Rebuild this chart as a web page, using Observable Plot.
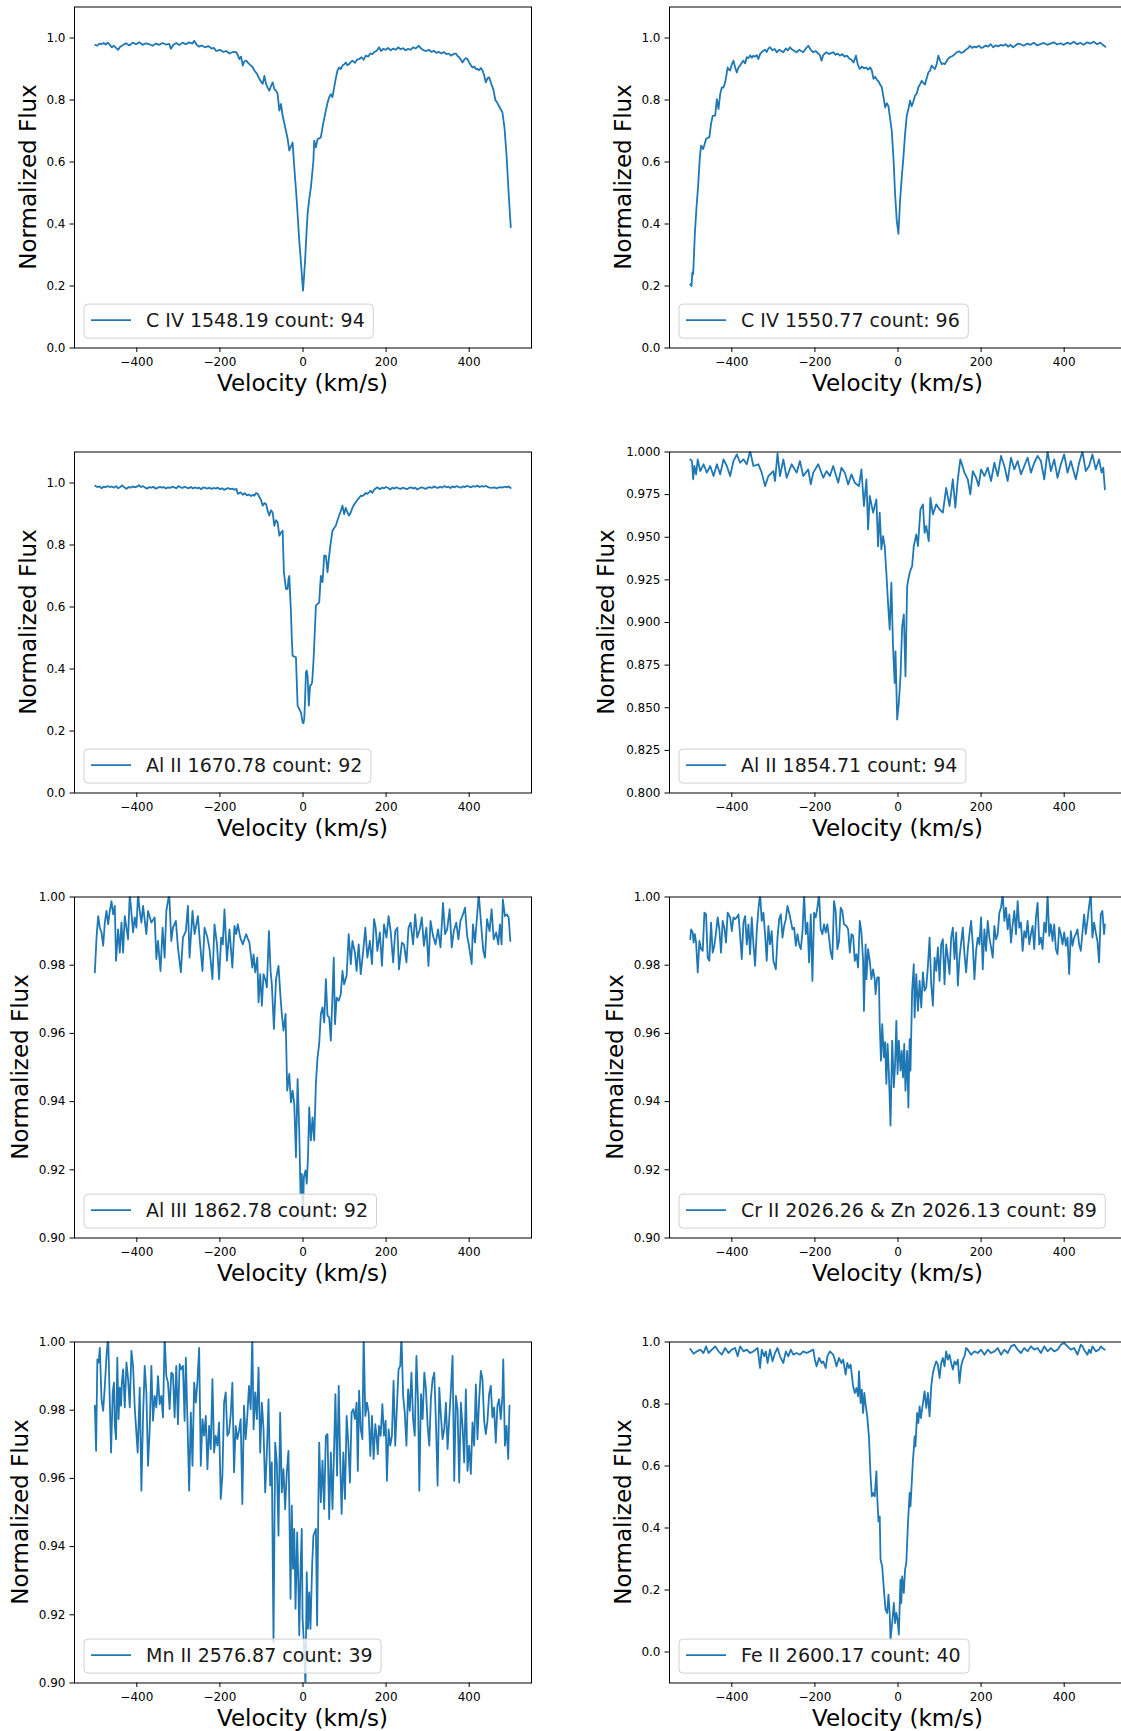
<!DOCTYPE html>
<html>
<head>
<meta charset="utf-8">
<script src="https://cdn.jsdelivr.net/npm/d3@7"></script>
<script src="https://cdn.jsdelivr.net/npm/@observablehq/plot@0.6"></script>
<style>
html,body{margin:0;padding:0;background:#fff;overflow:hidden;}
#fig{position:relative;width:1121px;height:1731px;overflow:hidden;background:#fff;font-family:"DejaVu Sans",sans-serif;}
#fig svg{position:absolute;}
</style>
</head>
<body>
<div id="fig"></div>
<script>
// ---------- data: [velocity km/s, normalized flux] ----------
const civ1548 = [[-500,0.978],[-495,0.975],[-490,0.982],[-485,0.980],[-480,0.984],[-475,0.979],[-470,0.985],[-465,0.978],[-460,0.970],[-455,0.975],[-450,0.968],[-445,0.962],[-440,0.972],[-432,0.978],[-426,0.983],[-418,0.976],[-410,0.985],[-402,0.980],[-394,0.986],[-386,0.978],[-378,0.983],[-370,0.980],[-362,0.975],[-354,0.982],[-346,0.978],[-338,0.984],[-330,0.979],[-322,0.981],[-318,0.965],[-312,0.978],[-305,0.984],[-298,0.977],[-290,0.985],[-282,0.980],[-274,0.986],[-266,0.982],[-262,0.991],[-256,0.978],[-250,0.972],[-244,0.976],[-236,0.970],[-228,0.974],[-220,0.966],[-214,0.968],[-209,0.958],[-200,0.962],[-192,0.955],[-185,0.958],[-177,0.950],[-169,0.955],[-161,0.954],[-157,0.945],[-153,0.932],[-149,0.940],[-145,0.911],[-141,0.925],[-137,0.927],[-131,0.918],[-125,0.911],[-121,0.905],[-117,0.895],[-111,0.885],[-105,0.868],[-101,0.860],[-97,0.852],[-93,0.878],[-89,0.852],[-85,0.840],[-81,0.830],[-77,0.845],[-73,0.857],[-69,0.835],[-65,0.830],[-61,0.819],[-57,0.766],[-53,0.787],[-49,0.749],[-45,0.725],[-41,0.700],[-37,0.675],[-33,0.637],[-29,0.650],[-25,0.663],[-21,0.583],[-18,0.530],[-15,0.475],[-12,0.410],[-9,0.346],[-6,0.295],[-4,0.260],[-2,0.220],[0,0.185],[2,0.220],[5,0.282],[8,0.360],[11,0.432],[15,0.480],[19,0.518],[22,0.560],[25,0.604],[27,0.669],[31,0.647],[35,0.674],[39,0.676],[43,0.680],[47,0.712],[51,0.740],[55,0.766],[59,0.790],[63,0.809],[67,0.819],[71,0.809],[75,0.841],[79,0.870],[83,0.895],[87,0.905],[91,0.900],[95,0.911],[99,0.915],[103,0.921],[107,0.912],[111,0.916],[115,0.922],[119,0.927],[125,0.920],[130,0.930],[135,0.932],[141,0.938],[146,0.930],[151,0.943],[157,0.940],[162,0.950],[167,0.948],[172,0.955],[178,0.960],[183,0.970],[188,0.958],[193,0.965],[199,0.962],[205,0.968],[211,0.960],[217,0.966],[223,0.962],[229,0.970],[235,0.964],[241,0.967],[247,0.960],[253,0.965],[259,0.962],[265,0.970],[271,0.966],[279,0.975],[285,0.965],[291,0.960],[297,0.958],[303,0.962],[309,0.955],[315,0.959],[321,0.952],[327,0.955],[333,0.950],[339,0.955],[345,0.948],[351,0.950],[356,0.943],[362,0.948],[368,0.950],[372,0.942],[376,0.938],[380,0.930],[384,0.921],[388,0.930],[392,0.935],[396,0.932],[400,0.921],[404,0.912],[408,0.905],[412,0.908],[416,0.900],[420,0.900],[424,0.896],[428,0.903],[432,0.895],[436,0.880],[440,0.857],[444,0.870],[448,0.873],[453,0.853],[458,0.835],[463,0.800],[468,0.790],[472,0.780],[476,0.770],[480,0.760],[485,0.710],[490,0.620],[495,0.500],[500,0.390]];

const civ1550 = [[-500,0.206],[-497,0.200],[-495,0.244],[-493,0.238],[-489,0.368],[-485,0.454],[-481,0.524],[-477,0.615],[-474,0.653],[-469,0.642],[-465,0.660],[-462,0.674],[-458,0.678],[-454,0.680],[-450,0.723],[-446,0.749],[-440,0.750],[-436,0.803],[-432,0.771],[-428,0.819],[-424,0.841],[-420,0.840],[-416,0.857],[-413,0.880],[-410,0.905],[-407,0.898],[-404,0.895],[-400,0.915],[-396,0.927],[-392,0.905],[-388,0.889],[-384,0.905],[-380,0.911],[-376,0.920],[-372,0.927],[-368,0.918],[-364,0.938],[-360,0.935],[-356,0.944],[-352,0.936],[-348,0.943],[-344,0.940],[-340,0.945],[-336,0.932],[-332,0.948],[-328,0.955],[-324,0.959],[-320,0.962],[-316,0.955],[-312,0.966],[-308,0.970],[-302,0.960],[-297,0.965],[-292,0.954],[-286,0.962],[-281,0.958],[-276,0.954],[-270,0.966],[-265,0.960],[-260,0.970],[-254,0.962],[-249,0.958],[-244,0.954],[-238,0.962],[-233,0.958],[-228,0.954],[-222,0.966],[-216,0.975],[-210,0.962],[-204,0.954],[-198,0.958],[-192,0.950],[-188,0.945],[-184,0.927],[-180,0.945],[-176,0.950],[-172,0.954],[-166,0.948],[-160,0.952],[-156,0.954],[-150,0.946],[-145,0.950],[-140,0.943],[-134,0.948],[-129,0.940],[-123,0.943],[-118,0.935],[-112,0.930],[-107,0.921],[-101,0.943],[-97,0.915],[-92,0.900],[-87,0.908],[-82,0.902],[-77,0.905],[-72,0.898],[-67,0.905],[-63,0.895],[-59,0.868],[-55,0.875],[-51,0.866],[-47,0.860],[-43,0.850],[-39,0.841],[-35,0.810],[-31,0.776],[-27,0.790],[-23,0.780],[-19,0.740],[-15,0.700],[-11,0.615],[-7,0.497],[-3,0.411],[1,0.368],[5,0.475],[9,0.550],[13,0.615],[17,0.690],[21,0.749],[25,0.770],[29,0.798],[33,0.780],[37,0.795],[41,0.814],[45,0.820],[49,0.841],[53,0.850],[57,0.862],[61,0.855],[65,0.850],[69,0.870],[73,0.889],[77,0.895],[81,0.911],[85,0.905],[89,0.900],[93,0.915],[97,0.943],[101,0.928],[105,0.916],[109,0.918],[113,0.916],[119,0.930],[125,0.938],[131,0.942],[137,0.948],[141,0.954],[147,0.957],[152,0.952],[157,0.954],[163,0.962],[168,0.966],[173,0.975],[178,0.968],[184,0.972],[189,0.970],[195,0.975],[200,0.968],[205,0.970],[211,0.976],[217,0.972],[223,0.980],[229,0.970],[235,0.976],[241,0.973],[247,0.978],[253,0.975],[259,0.980],[265,0.972],[271,0.978],[277,0.970],[283,0.976],[289,0.982],[295,0.980],[303,0.975],[311,0.982],[319,0.978],[327,0.985],[335,0.976],[343,0.980],[351,0.984],[359,0.978],[367,0.982],[375,0.986],[383,0.979],[391,0.983],[399,0.978],[407,0.985],[415,0.981],[423,0.988],[431,0.980],[439,0.984],[447,0.978],[455,0.986],[463,0.982],[471,0.988],[479,0.980],[487,0.985],[493,0.978],[499,0.972]];

const alii1670 = [[-500,0.991],[-495,0.987],[-490,0.989],[-485,0.983],[-480,0.988],[-475,0.986],[-470,0.990],[-465,0.987],[-460,0.989],[-455,0.985],[-450,0.990],[-445,0.983],[-440,0.987],[-435,0.992],[-430,0.986],[-425,0.981],[-420,0.987],[-415,0.985],[-410,0.989],[-405,0.986],[-400,0.988],[-395,0.993],[-390,0.987],[-385,0.990],[-380,0.985],[-375,0.982],[-370,0.987],[-365,0.985],[-360,0.988],[-355,0.982],[-350,0.984],[-345,0.988],[-340,0.985],[-335,0.987],[-330,0.982],[-325,0.986],[-320,0.984],[-315,0.988],[-310,0.986],[-305,0.983],[-300,0.990],[-295,0.986],[-290,0.984],[-285,0.988],[-280,0.985],[-275,0.983],[-270,0.987],[-265,0.982],[-260,0.986],[-255,0.983],[-250,0.985],[-245,0.980],[-240,0.986],[-235,0.984],[-230,0.982],[-225,0.985],[-220,0.981],[-215,0.984],[-210,0.982],[-205,0.985],[-200,0.980],[-195,0.983],[-190,0.978],[-185,0.981],[-180,0.984],[-175,0.980],[-170,0.982],[-165,0.978],[-160,0.981],[-157,0.965],[-150,0.970],[-145,0.962],[-140,0.967],[-135,0.960],[-130,0.963],[-125,0.958],[-120,0.962],[-117,0.959],[-113,0.968],[-109,0.965],[-105,0.955],[-101,0.945],[-97,0.927],[-93,0.935],[-89,0.932],[-85,0.910],[-81,0.895],[-77,0.912],[-73,0.905],[-69,0.862],[-65,0.880],[-61,0.873],[-57,0.830],[-53,0.840],[-49,0.846],[-46,0.712],[-43,0.680],[-41,0.658],[-39,0.660],[-37,0.658],[-35,0.690],[-33,0.700],[-31,0.640],[-29,0.583],[-27,0.500],[-25,0.443],[-21,0.440],[-17,0.438],[-15,0.360],[-13,0.282],[-9,0.271],[-5,0.260],[-3,0.245],[-1,0.228],[1,0.225],[3,0.239],[5,0.300],[7,0.389],[9,0.395],[11,0.378],[14,0.282],[17,0.346],[20,0.350],[22,0.357],[25,0.420],[27,0.475],[29,0.540],[31,0.604],[35,0.610],[39,0.615],[41,0.660],[43,0.700],[45,0.690],[47,0.680],[49,0.720],[51,0.766],[55,0.766],[59,0.712],[61,0.740],[63,0.766],[67,0.810],[71,0.846],[75,0.855],[79,0.862],[83,0.880],[87,0.895],[91,0.910],[95,0.927],[99,0.900],[103,0.920],[107,0.905],[111,0.895],[115,0.905],[119,0.920],[123,0.930],[127,0.938],[131,0.945],[135,0.952],[139,0.959],[143,0.958],[147,0.962],[151,0.968],[155,0.965],[159,0.970],[163,0.975],[167,0.968],[171,0.978],[175,0.982],[179,0.986],[185,0.980],[190,0.985],[195,0.983],[200,0.987],[205,0.984],[210,0.979],[215,0.985],[220,0.982],[225,0.986],[230,0.983],[235,0.981],[240,0.985],[245,0.983],[250,0.980],[255,0.984],[260,0.986],[265,0.982],[270,0.985],[275,0.979],[280,0.983],[285,0.986],[290,0.984],[295,0.981],[300,0.985],[305,0.987],[310,0.984],[315,0.989],[320,0.986],[325,0.984],[330,0.988],[335,0.985],[340,0.990],[345,0.986],[350,0.988],[355,0.984],[360,0.989],[365,0.986],[370,0.990],[375,0.987],[380,0.985],[385,0.989],[390,0.987],[395,0.991],[400,0.988],[405,0.986],[410,0.990],[415,0.988],[420,0.992],[425,0.987],[430,0.990],[435,0.988],[440,0.991],[445,0.987],[450,0.985],[455,0.984],[460,0.986],[465,0.983],[470,0.985],[475,0.987],[480,0.985],[485,0.988],[490,0.986],[495,0.989],[500,0.984]];

const alii1854 = [[-500,0.9957],[-496,0.9947],[-493,0.9840],[-490,0.9918],[-486,0.9869],[-482,0.9957],[-476,0.9888],[-468,0.9928],[-460,0.9879],[-452,0.9918],[-444,0.9859],[-436,0.9928],[-428,0.9869],[-420,0.9957],[-412,0.9918],[-404,0.9859],[-396,0.9947],[-388,0.9986],[-380,0.9937],[-372,0.9957],[-364,0.9928],[-356,1.0005],[-348,0.9918],[-336,0.9928],[-328,0.9879],[-320,0.9800],[-312,0.9859],[-300,0.9888],[-296,0.9830],[-290,0.9992],[-284,0.9859],[-276,0.9957],[-268,0.9849],[-256,0.9928],[-244,0.9879],[-236,0.9947],[-228,0.9859],[-216,0.9898],[-210,0.9810],[-204,0.9879],[-192,0.9928],[-180,0.9849],[-172,0.9888],[-164,0.9859],[-156,0.9918],[-144,0.9820],[-136,0.9908],[-128,0.9879],[-120,0.9810],[-112,0.9869],[-104,0.9820],[-94,0.9800],[-88,0.9898],[-82,0.9683],[-76,0.9840],[-72,0.9546],[-68,0.9742],[-60,0.9644],[-52,0.9722],[-48,0.9448],[-44,0.9644],[-40,0.9429],[-36,0.9507],[-32,0.9448],[-28,0.9292],[-24,0.9115],[-20,0.8959],[-16,0.9233],[-12,0.8861],[-8,0.8646],[-6,0.8831],[-2,0.8431],[2,0.8528],[6,0.8685],[10,0.8978],[14,0.9047],[18,0.8685],[22,0.9213],[28,0.9292],[34,0.9331],[38,0.9448],[44,0.9517],[48,0.9448],[54,0.9663],[60,0.9693],[64,0.9526],[68,0.9566],[74,0.9477],[78,0.9732],[84,0.9634],[92,0.9693],[100,0.9663],[108,0.9644],[116,0.9790],[124,0.9683],[132,0.9840],[138,0.9673],[144,0.9840],[150,0.9957],[160,0.9879],[168,0.9840],[174,0.9751],[180,0.9888],[188,0.9849],[194,0.9800],[200,0.9898],[208,0.9859],[216,0.9908],[224,0.9830],[232,0.9937],[240,0.9859],[248,0.9977],[256,0.9918],[264,0.9830],[272,0.9967],[280,0.9898],[288,0.9947],[296,0.9869],[304,0.9918],[312,0.9967],[320,0.9879],[328,0.9937],[336,0.9977],[344,0.9947],[352,0.9840],[360,1.0005],[368,0.9888],[376,0.9957],[384,0.9849],[392,0.9928],[400,0.9986],[408,0.9879],[416,0.9947],[428,0.9840],[436,0.9937],[444,1.0003],[452,0.9888],[460,0.9918],[468,0.9986],[476,0.9898],[484,0.9957],[490,0.9879],[494,0.9908],[498,0.9781]];

const aliii1862 = [[-501,0.9779],[-497,0.9881],[-493,0.9944],[-489,0.9910],[-485,0.9896],[-481,0.9857],[-477,0.9925],[-473,0.9959],[-469,0.9920],[-465,0.9959],[-461,0.9988],[-457,0.9949],[-453,0.9974],[-450,0.9813],[-445,0.9905],[-441,0.9837],[-437,0.9925],[-433,0.9837],[-429,0.9944],[-421,0.9876],[-417,1.0010],[-413,0.9954],[-409,0.9896],[-405,0.9940],[-401,0.9910],[-397,1.0010],[-393,0.9959],[-389,0.9925],[-385,0.9974],[-377,0.9891],[-373,0.9959],[-365,0.9925],[-357,0.9940],[-353,0.9818],[-349,0.9871],[-343,0.9783],[-338,0.9910],[-333,0.9822],[-329,0.9959],[-322,1.0010],[-317,0.9871],[-313,0.9910],[-306,0.9930],[-301,0.9852],[-294,0.9779],[-289,0.9881],[-282,0.9900],[-277,0.9974],[-273,0.9822],[-266,0.9959],[-261,0.9891],[-253,0.9944],[-249,0.9881],[-242,0.9783],[-237,0.9910],[-230,0.9881],[-225,0.9847],[-218,0.9759],[-213,0.9920],[-207,0.9861],[-202,0.9759],[-197,0.9881],[-193,0.9861],[-189,0.9964],[-183,0.9813],[-177,0.9905],[-170,0.9793],[-165,0.9915],[-161,0.9891],[-157,0.9920],[-151,0.9881],[-145,0.9861],[-137,0.9891],[-129,0.9866],[-122,0.9793],[-119,0.9832],[-115,0.9779],[-110,0.9822],[-107,0.9691],[-103,0.9774],[-99,0.9681],[-95,0.9774],[-90,0.9754],[-87,0.9735],[-82,0.9900],[-78,0.9783],[-75,0.9744],[-70,0.9613],[-65,0.9759],[-59,0.9798],[-54,0.9705],[-51,0.9657],[-47,0.9608],[-42,0.9657],[-38,0.9432],[-33,0.9481],[-29,0.9398],[-25,0.9432],[-21,0.9393],[-17,0.9237],[-13,0.9466],[-9,0.9315],[-6,0.9130],[-3,0.9188],[0,0.9052],[2,0.9179],[6,0.9198],[9,0.9159],[12,0.9237],[15,0.9383],[19,0.9286],[23,0.9354],[27,0.9286],[31,0.9452],[35,0.9530],[39,0.9569],[43,0.9657],[47,0.9676],[51,0.9632],[55,0.9759],[59,0.9652],[63,0.9647],[67,0.9579],[71,0.9715],[74,0.9822],[77,0.9627],[81,0.9705],[86,0.9696],[91,0.9715],[95,0.9783],[99,0.9744],[105,0.9769],[110,0.9891],[115,0.9803],[119,0.9871],[125,0.9837],[129,0.9783],[134,0.9861],[139,0.9774],[145,0.9842],[150,0.9910],[155,0.9822],[161,0.9871],[166,0.9803],[171,0.9935],[175,0.9910],[179,0.9842],[185,0.9896],[190,0.9798],[195,0.9920],[201,0.9881],[206,0.9944],[211,0.9900],[217,0.9808],[222,0.9900],[227,0.9910],[231,0.9788],[238,0.9866],[243,0.9861],[249,0.9808],[254,0.9910],[259,0.9925],[265,0.9861],[270,0.9949],[275,0.9881],[281,0.9905],[286,0.9940],[291,0.9857],[297,0.9910],[302,0.9798],[307,0.9930],[313,0.9886],[319,0.9861],[325,0.9905],[331,0.9852],[337,0.9983],[342,0.9891],[347,0.9905],[353,0.9964],[358,0.9852],[363,0.9900],[369,0.9925],[374,0.9876],[379,0.9930],[385,0.9949],[390,0.9969],[395,0.9886],[399,0.9861],[406,0.9803],[409,0.9920],[414,0.9866],[419,0.9944],[423,1.0010],[430,0.9900],[434,0.9842],[438,0.9822],[443,0.9935],[449,0.9900],[454,0.9964],[459,0.9876],[465,0.9896],[470,0.9861],[474,0.9920],[478,0.9861],[481,0.9993],[486,0.9944],[491,0.9949],[495,0.9940],[499,0.9871]];

const crii2026 = [[-500,0.9876],[-498,0.9905],[-494,0.9896],[-492,0.9866],[-489,0.9891],[-486,0.9866],[-482,0.9779],[-478,0.9871],[-474,0.9847],[-470,0.9842],[-466,0.9954],[-462,0.9949],[-458,0.9822],[-454,0.9813],[-450,0.9925],[-446,0.9837],[-442,0.9857],[-438,0.9896],[-434,0.9940],[-430,0.9905],[-426,0.9837],[-422,0.9930],[-418,0.9910],[-414,0.9866],[-410,0.9954],[-404,0.9940],[-400,0.9900],[-396,0.9940],[-392,0.9935],[-388,0.9940],[-384,0.9949],[-380,0.9886],[-376,0.9818],[-372,0.9925],[-368,0.9944],[-364,0.9861],[-360,0.9920],[-356,0.9832],[-352,0.9940],[-348,0.9861],[-344,0.9798],[-340,0.9900],[-336,0.9964],[-332,1.0010],[-328,0.9930],[-324,0.9954],[-320,0.9891],[-316,0.9813],[-312,0.9915],[-308,0.9861],[-304,0.9900],[-300,0.9813],[-294,0.9788],[-290,0.9881],[-286,0.9935],[-282,0.9949],[-278,0.9881],[-274,0.9915],[-270,0.9935],[-266,0.9974],[-262,0.9954],[-258,0.9930],[-254,0.9905],[-250,0.9910],[-246,0.9857],[-242,0.9891],[-238,0.9861],[-234,0.9847],[-230,0.9896],[-226,1.0010],[-222,0.9891],[-218,0.9925],[-214,0.9808],[-210,0.9949],[-206,0.9754],[-202,0.9954],[-198,0.9940],[-194,0.9969],[-190,1.0010],[-186,0.9905],[-182,0.9891],[-178,0.9920],[-174,0.9896],[-170,0.9920],[-166,0.9881],[-162,0.9837],[-158,0.9818],[-154,0.9988],[-150,0.9959],[-146,0.9847],[-142,0.9871],[-138,0.9969],[-134,0.9959],[-130,0.9920],[-124,0.9915],[-120,0.9905],[-116,0.9837],[-112,0.9891],[-108,0.9886],[-104,0.9813],[-100,0.9832],[-96,0.9793],[-92,0.9930],[-88,0.9896],[-84,0.9813],[-82,0.9666],[-78,0.9861],[-76,0.9759],[-72,0.9847],[-68,0.9813],[-64,0.9759],[-60,0.9788],[-56,0.9759],[-54,0.9715],[-50,0.9764],[-46,0.9764],[-44,0.9627],[-41,0.9520],[-38,0.9627],[-34,0.9530],[-31,0.9574],[-28,0.9452],[-25,0.9569],[-22,0.9486],[-18,0.9330],[-14,0.9579],[-10,0.9442],[-7,0.9510],[-4,0.9637],[-1,0.9481],[2,0.9579],[6,0.9491],[9,0.9549],[12,0.9471],[15,0.9569],[18,0.9432],[22,0.9549],[25,0.9383],[28,0.9583],[30,0.9491],[34,0.9725],[38,0.9803],[40,0.9647],[44,0.9774],[48,0.9666],[52,0.9754],[56,0.9676],[60,0.9779],[64,0.9725],[68,0.9735],[72,0.9798],[76,0.9881],[80,0.9744],[84,0.9681],[88,0.9822],[92,0.9783],[96,0.9852],[100,0.9754],[104,0.9861],[108,0.9876],[112,0.9744],[116,0.9861],[120,0.9822],[124,0.9774],[128,0.9881],[132,0.9910],[136,0.9818],[140,0.9896],[144,0.9740],[148,0.9822],[152,0.9866],[156,0.9910],[160,0.9832],[164,0.9779],[168,0.9847],[172,0.9891],[176,0.9930],[180,0.9861],[184,0.9759],[188,0.9842],[192,0.9881],[196,0.9861],[200,0.9940],[204,0.9788],[208,0.9905],[212,0.9842],[216,0.9930],[220,0.9881],[224,0.9852],[228,0.9822],[232,0.9915],[236,0.9876],[240,0.9891],[244,0.9954],[248,0.9969],[252,1.0010],[256,0.9930],[260,0.9969],[264,0.9905],[268,0.9949],[272,0.9866],[276,0.9920],[280,0.9959],[284,0.9891],[288,0.9988],[292,0.9910],[296,0.9925],[300,0.9842],[304,0.9900],[308,0.9881],[312,0.9930],[316,0.9861],[320,0.9891],[324,0.9915],[328,0.9847],[332,0.9940],[336,0.9983],[340,0.9861],[344,0.9881],[348,0.9847],[352,0.9925],[356,0.9896],[360,1.0010],[364,0.9886],[368,0.9920],[372,0.9871],[376,0.9920],[380,0.9847],[384,0.9832],[388,0.9910],[392,0.9891],[396,0.9861],[400,0.9896],[404,0.9857],[408,0.9881],[412,0.9774],[416,0.9900],[420,0.9857],[424,0.9881],[428,0.9891],[432,0.9905],[436,0.9861],[440,0.9842],[444,0.9896],[448,0.9949],[452,0.9891],[456,0.9930],[460,0.9974],[464,1.0010],[468,0.9881],[472,0.9925],[476,0.9896],[480,0.9871],[484,0.9808],[488,0.9949],[492,0.9959],[496,0.9891],[498,0.9920]];

const mnii2576 = [[-501,0.9813],[-498,0.9681],[-495,0.9949],[-492,0.9940],[-489,0.9983],[-485,0.9832],[-481,0.9798],[-477,0.9871],[-473,0.9959],[-469,1.0020],[-466,0.9871],[-462,0.9676],[-458,0.9852],[-455,0.9881],[-453,0.9754],[-450,0.9715],[-447,0.9954],[-444,0.9774],[-441,0.9866],[-438,0.9813],[-436,0.9881],[-433,0.9920],[-429,0.9808],[-425,0.9940],[-421,0.9891],[-417,0.9808],[-413,0.9974],[-409,0.9930],[-405,0.9808],[-398,0.9676],[-393,0.9866],[-389,0.9564],[-385,0.9783],[-381,0.9930],[-377,0.9852],[-373,0.9637],[-369,0.9744],[-365,0.9930],[-361,0.9769],[-357,0.9842],[-353,0.9808],[-349,0.9900],[-345,0.9818],[-341,0.9842],[-337,0.9779],[-333,1.0020],[-329,0.9900],[-325,0.9881],[-321,0.9803],[-317,0.9910],[-313,0.9905],[-309,0.9779],[-305,0.9930],[-301,0.9759],[-297,0.9935],[-293,0.9920],[-289,0.9930],[-285,0.9769],[-282,0.9954],[-278,0.9764],[-274,0.9564],[-270,0.9793],[-266,0.9637],[-262,0.9881],[-258,0.9822],[-254,0.9886],[-250,0.9983],[-246,0.9637],[-242,0.9774],[-238,0.9725],[-234,0.9783],[-230,0.9627],[-226,0.9754],[-222,0.9686],[-218,0.9891],[-214,0.9676],[-210,0.9725],[-206,0.9696],[-202,0.9764],[-198,0.9540],[-194,0.9608],[-190,0.9822],[-186,0.9852],[-182,0.9725],[-178,0.9735],[-174,0.9788],[-170,0.9881],[-166,0.9618],[-162,0.9754],[-158,0.9715],[-154,0.9740],[-150,0.9774],[-146,0.9525],[-142,0.9813],[-138,0.9715],[-134,0.9783],[-130,0.9871],[-126,0.9803],[-122,1.0020],[-119,0.9744],[-115,0.9852],[-111,0.9774],[-107,0.9925],[-103,0.9676],[-99,0.9822],[-95,0.9744],[-91,0.9559],[-87,0.9676],[-83,0.9832],[-79,0.9579],[-75,0.9647],[-71,0.9120],[-67,0.9705],[-63,0.9647],[-59,0.9432],[-55,0.9793],[-51,0.9559],[-47,0.9627],[-43,0.9510],[-39,0.9618],[-35,0.9681],[-33,0.9530],[-30,0.9247],[-27,0.9520],[-24,0.9335],[-21,0.9452],[-18,0.9218],[-14,0.9442],[-11,0.9276],[-9,0.9140],[-6,0.9335],[-3,0.9452],[-1,0.9188],[2,0.9120],[6,0.8990],[9,0.9325],[12,0.9159],[15,0.9266],[18,0.9159],[22,0.9344],[25,0.9432],[28,0.9442],[31,0.9452],[34,0.9169],[37,0.9530],[39,0.9705],[43,0.9530],[47,0.9652],[51,0.9510],[55,0.9725],[59,0.9730],[63,0.9481],[67,0.9676],[71,0.9510],[75,0.9696],[78,0.9847],[82,0.9608],[86,0.9871],[90,0.9627],[93,0.9496],[97,0.9676],[101,0.9540],[105,0.9783],[109,0.9705],[113,0.9588],[117,0.9793],[121,0.9803],[125,0.9774],[129,0.9822],[132,0.9622],[135,0.9857],[139,0.9744],[143,0.9715],[146,1.0020],[150,0.9783],[154,0.9822],[158,0.9793],[162,0.9666],[166,0.9783],[170,0.9657],[174,0.9759],[177,0.9725],[180,0.9671],[183,0.9754],[187,0.9725],[191,0.9818],[195,0.9725],[199,0.9769],[202,0.9593],[206,0.9744],[210,0.9696],[214,0.9725],[218,0.9886],[222,0.9696],[226,0.9808],[230,0.9920],[234,0.9930],[237,1.0020],[241,0.9842],[245,0.9793],[249,0.9696],[253,0.9861],[257,0.9798],[261,0.9910],[265,0.9774],[269,0.9725],[273,0.9959],[277,0.9822],[280,0.9564],[284,0.9847],[288,0.9774],[292,0.9910],[296,0.9861],[300,0.9754],[304,0.9696],[308,0.9837],[312,0.9891],[316,0.9910],[320,0.9764],[324,0.9579],[328,0.9866],[332,0.9783],[336,0.9715],[340,0.9744],[344,0.9822],[348,0.9686],[352,0.9774],[356,0.9861],[360,0.9959],[364,0.9593],[368,0.9842],[372,0.9803],[376,0.9588],[380,0.9822],[384,0.9754],[388,0.9647],[392,0.9861],[396,0.9622],[400,0.9696],[404,0.9613],[408,0.9764],[412,0.9696],[416,0.9876],[420,0.9715],[424,0.9832],[428,0.9915],[432,0.9891],[436,0.9769],[440,0.9730],[444,0.9769],[448,0.9847],[452,0.9871],[456,0.9779],[460,0.9808],[464,0.9705],[468,0.9813],[472,0.9832],[476,0.9774],[480,0.9842],[482,0.9949],[486,0.9696],[490,0.9754],[494,0.9657],[497,0.9813]];

const feii2600 = [[-500,0.9774],[-496,0.9699],[-492,0.9624],[-484,0.9699],[-476,0.9753],[-468,0.9645],[-462,0.9860],[-456,0.9645],[-448,0.9753],[-440,0.9860],[-432,0.9699],[-424,0.9591],[-416,0.9806],[-408,0.9645],[-400,0.9753],[-392,0.9806],[-386,0.9538],[-380,0.9860],[-372,0.9699],[-364,0.9753],[-356,0.9645],[-348,0.9699],[-338,0.9806],[-332,0.9161],[-328,0.9753],[-322,0.9538],[-318,0.9699],[-314,0.9323],[-308,0.9753],[-302,0.9376],[-296,0.9645],[-290,0.9806],[-284,0.9538],[-276,0.9323],[-270,0.9699],[-264,0.9538],[-258,0.9753],[-252,0.9591],[-244,0.9645],[-236,0.9591],[-228,0.9699],[-220,0.9645],[-212,0.9699],[-204,0.9753],[-200,0.9430],[-196,0.9215],[-190,0.9484],[-184,0.9323],[-180,0.9376],[-174,0.9161],[-170,0.9538],[-164,0.9699],[-156,0.9591],[-152,0.9430],[-148,0.9215],[-142,0.9484],[-136,0.9323],[-132,0.9430],[-126,0.8946],[-122,0.9323],[-118,0.9161],[-114,0.9269],[-108,0.8570],[-104,0.8355],[-100,0.8516],[-96,0.8247],[-94,0.9054],[-90,0.8032],[-87,0.8462],[-84,0.7710],[-81,0.8355],[-78,0.7978],[-74,0.7602],[-70,0.6957],[-66,0.5667],[-63,0.5022],[-60,0.5129],[-56,0.5022],[-52,0.5828],[-50,0.5022],[-47,0.4215],[-44,0.4376],[-42,0.2978],[-38,0.2763],[-34,0.2011],[-30,0.1366],[-26,0.1258],[-23,0.1849],[-20,0.1258],[-18,0.0398],[-14,0.0935],[-10,0.1581],[-7,0.0935],[-4,0.1258],[-1,0.1043],[2,0.0559],[6,0.2333],[8,0.1581],[10,0.2441],[14,0.1903],[17,0.2656],[20,0.2871],[24,0.4161],[28,0.5129],[30,0.4699],[32,0.5183],[36,0.6204],[38,0.6527],[40,0.6957],[42,0.6634],[46,0.7710],[49,0.7387],[52,0.7925],[55,0.7548],[60,0.8032],[64,0.8409],[68,0.7871],[72,0.8355],[76,0.7602],[80,0.8570],[84,0.9000],[88,0.9215],[92,0.9376],[96,0.9269],[100,0.8839],[104,0.9323],[108,0.9484],[112,0.9215],[116,0.9699],[120,0.9430],[124,0.9591],[128,0.9323],[132,0.9108],[136,0.9376],[140,0.9269],[144,0.9430],[148,0.8677],[152,0.9215],[156,0.9430],[160,0.9538],[164,0.9806],[168,0.9753],[176,0.9591],[184,0.9699],[192,0.9645],[200,0.9753],[208,0.9591],[216,0.9753],[224,0.9645],[232,0.9699],[240,0.9806],[248,0.9591],[256,0.9753],[264,0.9645],[272,0.9860],[280,0.9914],[288,0.9753],[296,0.9645],[304,0.9806],[312,0.9699],[320,0.9860],[328,0.9753],[336,0.9806],[344,0.9645],[352,0.9860],[360,0.9699],[368,0.9806],[376,0.9699],[384,0.9753],[392,0.9914],[400,0.9968],[408,0.9860],[416,0.9753],[424,0.9806],[432,0.9591],[440,0.9914],[444,0.9860],[450,0.9699],[456,0.9591],[460,0.9753],[464,0.9645],[468,0.9860],[476,0.9699],[484,0.9753],[488,0.9860],[492,0.9806],[498,0.9753]];

// ---------- labels & ticks ----------
const legendLabels = ["C IV 1548.19 count: 94","C IV 1550.77 count: 96","Al II 1670.78 count: 92","Al II 1854.71 count: 94","Al III 1862.78 count: 92","Cr II 2026.26 & Zn 2026.13 count: 89","Mn II 2576.87 count: 39","Fe II 2600.17 count: 40"];
const xTicks = [-400,-200,0,200,400];
const yTicksA = [0,0.2,0.4,0.6,0.8,1.0];
const yTicksB = [0.8,0.825,0.85,0.875,0.9,0.925,0.95,0.975,1.0];
const yTicksC = [0.9,0.92,0.94,0.96,0.98,1.0];
const xLabel = "Velocity (km/s)";
const yLabel = "Normalized Flux";

const panels = [
  {data: civ1548, yDomain: [0,1.1], yTicks: yTicksA, fmt: ".1f"},
  {data: civ1550, yDomain: [0,1.1], yTicks: yTicksA, fmt: ".1f"},
  {data: alii1670, yDomain: [0,1.1], yTicks: yTicksA, fmt: ".1f"},
  {data: alii1854, yDomain: [0.8,1.0], yTicks: yTicksB, fmt: ".3f"},
  {data: aliii1862, yDomain: [0.9,1.0], yTicks: yTicksC, fmt: ".2f"},
  {data: crii2026, yDomain: [0.9,1.0], yTicks: yTicksC, fmt: ".2f"},
  {data: mnii2576, yDomain: [0.9,1.0], yTicks: yTicksC, fmt: ".2f"},
  {data: feii2600, yDomain: [-0.1,1.0], yTicks: yTicksA, fmt: ".1f"}
];

// ---------- layout ----------
const FRAME_W = 457, FRAME_H = 341, M_TOP = 6.5, M_BOT = 90, M_RIGHT = 12;
const LINE_COLOR = "#1f77b4";
const FONT = "'DejaVu Sans', sans-serif";
const fig = document.getElementById("fig");
const fmtX = d => d < 0 ? "\u2212" + (-d) : String(d);

panels.forEach((p, i) => {
  const col = i % 2, row = Math.floor(i / 2);
  const mL = col === 0 ? 74 : 108;
  const left = col === 0 ? 0 : 561;
  const top = 445 * row;
  const width = mL + FRAME_W + M_RIGHT;
  const height = M_TOP + FRAME_H + M_BOT;
  const chart = Plot.plot({
    width, height,
    marginLeft: mL, marginRight: M_RIGHT, marginTop: M_TOP, marginBottom: M_BOT,
    style: {fontFamily: FONT, fontSize: "12px", color: "#000", background: "transparent", overflow: "visible"},
    x: {domain: [-550, 550]},
    y: {domain: p.yDomain},
    marks: [
      Plot.line(p.data, {x: d => d[0], y: d => d[1], stroke: LINE_COLOR, strokeWidth: 1.8, clip: true}),
      Plot.axisX({ticks: xTicks, tickFormat: fmtX, tickSize: 4.5, tickPadding: 4.5, label: null, fontSize: 12}),
      Plot.axisY({ticks: p.yTicks, tickFormat: d3.format(p.fmt), tickSize: 4.5, tickPadding: 4.5, label: null, fontSize: 12}),
      Plot.frame({stroke: "#000", strokeWidth: 1})
    ]
  });
  chart.style.left = left + "px";
  chart.style.top = top + "px";
  chart.style.maxWidth = "none";
  fig.appendChild(chart);

  const svg = d3.select(chart);
  const fx0 = mL, fx1 = mL + FRAME_W, fy0 = M_TOP, fy1 = M_TOP + FRAME_H;
  const yOff = p.fmt === ".1f" ? 38 : p.fmt === ".2f" ? 46 : 55;
  svg.append("text")
    .attr("x", (fx0 + fx1) / 2).attr("y", fy1 + 43)
    .attr("text-anchor", "middle").attr("font-size", 23)
    .attr("font-family", FONT).attr("fill", "#000")
    .text(xLabel);
  svg.append("text")
    .attr("transform", `translate(${fx0 - yOff},${(fy0 + fy1) / 2}) rotate(-90)`)
    .attr("text-anchor", "middle").attr("font-size", 23)
    .attr("font-family", FONT).attr("fill", "#000")
    .text(yLabel);

  // legend
  const g = svg.append("g").attr("text-anchor", "start");
  const bx = fx0 + 10, by = fy1 - 43.4, bh = 34;
  const rect = g.append("rect")
    .attr("x", bx).attr("y", by).attr("height", bh).attr("rx", 4).attr("ry", 4)
    .attr("fill", "#fff").attr("fill-opacity", 0.8)
    .attr("stroke", "#d0d0d0").attr("stroke-width", 1);
  g.append("line")
    .attr("x1", fx0 + 17).attr("x2", fx0 + 57)
    .attr("y1", fy1 - 27.4).attr("y2", fy1 - 27.4)
    .attr("stroke", LINE_COLOR).attr("stroke-width", 1.8);
  const txt = g.append("text")
    .attr("x", fx0 + 72).attr("y", fy1 - 20.7)
    .attr("text-anchor", "start")
    .attr("font-size", 19).attr("font-family", FONT).attr("fill", "#1a1a1a")
    .text(legendLabels[i]);
  const tw = txt.node().getComputedTextLength();
  rect.attr("width", (fx0 + 72 + tw + 8.5) - bx);
});
</script>
</body>
</html>
